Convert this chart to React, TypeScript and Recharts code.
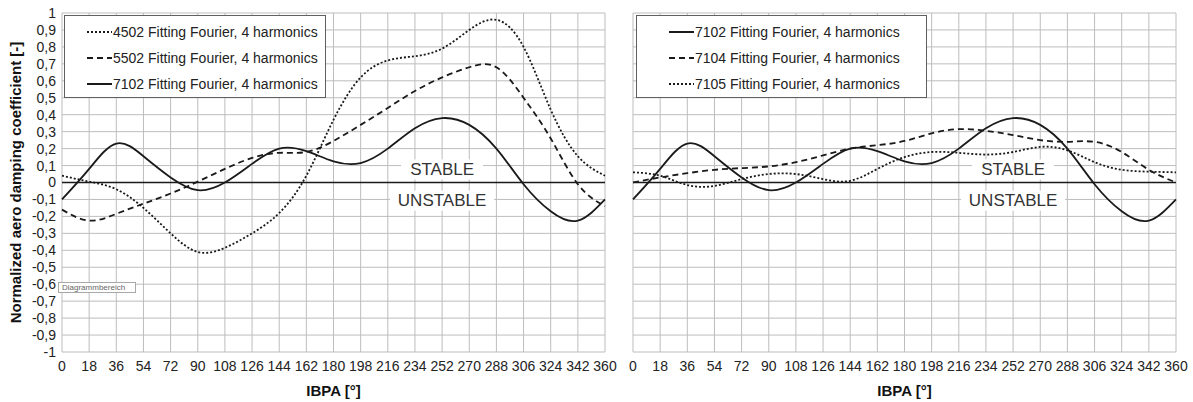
import {
  LineChart,
  Line,
  XAxis,
  YAxis,
  CartesianGrid,
  ReferenceLine,
  ReferenceDot,
  Legend
} from "recharts";

// IBPA sample positions [deg]
const ibpa = [0, 18, 36, 54, 72, 90, 108, 126, 144, 162, 180, 198, 216, 234, 252, 270, 288, 306, 324, 342, 360];

const xTicks = [0, 18, 36, 54, 72, 90, 108, 126, 144, 162, 180, 198, 216, 234, 252, 270, 288, 306, 324, 342, 360];
const yTicks = [-1, -0.9, -0.8, -0.7, -0.6, -0.5, -0.4, -0.3, -0.2, -0.1, 0, 0.1, 0.2, 0.3, 0.4, 0.5, 0.6, 0.7, 0.8, 0.9, 1];

// normalized aero damping
const fit4502 = [0.04, 0.005, -0.04, -0.15, -0.3, -0.41, -0.385, -0.3, -0.18, 0.04, 0.37, 0.62, 0.72, 0.745, 0.79, 0.9, 0.96, 0.8, 0.43, 0.155, 0.04];
const fit5502 = [-0.16, -0.225, -0.185, -0.125, -0.065, 0.005, 0.08, 0.145, 0.175, 0.18, 0.245, 0.34, 0.44, 0.54, 0.62, 0.68, 0.68, 0.5, 0.26, -0.01, -0.14];
const fit7102 = [-0.1, 0.08, 0.23, 0.155, 0.03, -0.045, 0.0, 0.11, 0.2, 0.185, 0.125, 0.115, 0.2, 0.32, 0.38, 0.34, 0.2, -0.01, -0.17, -0.225, -0.1];
const fit7104 = [0.0, 0.03, 0.055, 0.075, 0.085, 0.095, 0.12, 0.16, 0.2, 0.22, 0.245, 0.29, 0.315, 0.305, 0.28, 0.25, 0.24, 0.24, 0.18, 0.075, 0.0];
const fit7105 = [0.06, 0.04, -0.015, -0.02, 0.02, 0.05, 0.05, 0.02, 0.01, 0.08, 0.15, 0.18, 0.175, 0.165, 0.18, 0.21, 0.19, 0.12, 0.075, 0.064, 0.06];

const leftData = ibpa.map((x, i) => ({ ibpa: x, s4502: fit4502[i], s5502: fit5502[i], s7102: fit7102[i] }));
const rightData = ibpa.map((x, i) => ({ ibpa: x, s7102: fit7102[i], s7104: fit7104[i], s7105: fit7105[i] }));

const INK = "#1a1a1a";
const GRID = "#bdbdbd";
const FONT = "'Liberation Sans', Arial, sans-serif";

const SOLID = undefined;
const DASHED = "6 4";
const DOTTED = "2 2";

const leftItems = [
  { label: "4502 Fitting Fourier, 4 harmonics", dash: DOTTED },
  { label: "5502 Fitting Fourier, 4 harmonics", dash: DASHED },
  { label: "7102 Fitting Fourier, 4 harmonics", dash: SOLID }
];
const rightItems = [
  { label: "7102 Fitting Fourier, 4 harmonics", dash: SOLID },
  { label: "7104 Fitting Fourier, 4 harmonics", dash: DASHED },
  { label: "7105 Fitting Fourier, 4 harmonics", dash: DOTTED }
];

const fmtY = (v: number) => (Number.isInteger(v) ? String(v) : v.toFixed(1).replace(".", ","));

function LegendBox({ items, padLeft }: { items: { label: string; dash?: string }[]; padLeft: number }) {
  return (
    <div
      style={{
        boxSizing: "border-box",
        width: "100%",
        height: 83,
        border: "1px solid #606060",
        background: "#fff",
        paddingTop: 3,
        paddingLeft: padLeft,
        fontFamily: FONT,
        fontSize: 14,
        color: "#222"
      }}
    >
      {items.map((it) => (
        <div key={it.label} style={{ display: "flex", alignItems: "center", height: 26, whiteSpace: "nowrap" }}>
          <svg width={25} height={10} style={{ marginRight: 1 }}>
            <line x1={0} y1={5} x2={25} y2={5} stroke={INK} strokeWidth={2} strokeDasharray={it.dash} />
          </svg>
          <span>{it.label}</span>
        </div>
      ))}
    </div>
  );
}

const zoneLabel = (text: string, w: number) => (p: any) => (
  <g>
    <rect x={p.cx - w / 2} y={p.cy - 10} width={w} height={20} fill="#fff" />
    <text x={p.cx} y={p.cy} textAnchor="middle" dominantBaseline="central" fontSize={17} fill="#333" fontFamily={FONT}>
      {text}
    </text>
  </g>
);

const tickStyle = { fontSize: 14, fill: "#222", fontFamily: FONT };
const axisLabelStyle = { fontSize: 15, fontWeight: "bold", fill: "#111", fontFamily: FONT };
const noTick = () => <g />;

function Panel({
  data,
  series,
  items,
  width,
  marginLeft,
  marginRight,
  showY,
  legendLeft,
  legendWidth,
  legendPad
}: {
  data: any[];
  series: { key: string; dash?: string }[];
  items: { label: string; dash?: string }[];
  width: number;
  marginLeft: number;
  marginRight: number;
  showY: boolean;
  legendLeft: number;
  legendWidth: number;
  legendPad: number;
}) {
  return (
    <LineChart width={width} height={402} data={data} margin={{ top: 13, right: marginRight, left: marginLeft, bottom: 0 }}>
      <CartesianGrid stroke={GRID} strokeWidth={1} />
      <XAxis
        dataKey="ibpa"
        type="number"
        domain={[0, 360]}
        ticks={xTicks}
        interval={0}
        height={50}
        axisLine={false}
        tickLine={false}
        tickSize={6}
        tickMargin={3}
        tick={tickStyle}
        label={{ value: "IBPA [°]", position: "insideBottom", offset: 6, style: axisLabelStyle }}
      />
      <YAxis
        type="number"
        domain={[-1, 1]}
        ticks={yTicks}
        interval={0}
        width={showY ? 62 : 1}
        axisLine={false}
        tickLine={false}
        tickSize={4}
        tickMargin={2}
        tick={showY ? tickStyle : noTick}
        tickFormatter={fmtY}
        label={
          showY
            ? {
                value: "Normalized aero damping coefficient [-]",
                angle: -90,
                position: "insideLeft",
                offset: 16,
                style: { ...axisLabelStyle, textAnchor: "middle" }
              }
            : undefined
        }
      />
      <ReferenceLine y={0} stroke={INK} strokeWidth={1.5} />
      <ReferenceDot x={252} y={0.077} r={0} shape={zoneLabel("STABLE", 82)} />
      <ReferenceDot x={252} y={-0.107} r={0} shape={zoneLabel("UNSTABLE", 104)} />
      {series.map((s) => (
        <Line
          key={s.key}
          dataKey={s.key}
          type="natural"
          stroke={INK}
          strokeWidth={1.8}
          strokeDasharray={s.dash}
          dot={false}
          activeDot={false}
          isAnimationActive={false}
        />
      ))}
      <Legend
        layout="horizontal"
        verticalAlign="middle"
        align="center"
        wrapperStyle={{ left: legendLeft, top: 15, width: legendWidth, height: 83 }}
        content={() => <LegendBox items={items} padLeft={legendPad} />}
      />
    </LineChart>
  );
}

export default function App() {
  return (
    <div style={{ position: "absolute", left: 0, top: 0, width: 1193, height: 402, background: "#fff", fontFamily: FONT }}>
      <div style={{ position: "absolute", left: 0, top: 0 }}>
        <Panel
          data={leftData}
          series={[
            { key: "s4502", dash: DOTTED },
            { key: "s5502", dash: DASHED },
            { key: "s7102", dash: SOLID }
          ]}
          items={leftItems}
          width={625}
          marginLeft={0}
          marginRight={20}
          showY={true}
          legendLeft={64}
          legendWidth={262}
          legendPad={22}
        />
      </div>
      <div style={{ position: "absolute", left: 610, top: 0 }}>
        <Panel
          data={rightData}
          series={[
            { key: "s7102", dash: SOLID },
            { key: "s7104", dash: DASHED },
            { key: "s7105", dash: DOTTED }
          ]}
          items={rightItems}
          width={583}
          marginLeft={22}
          marginRight={17}
          showY={false}
          legendLeft={26}
          legendWidth={291}
          legendPad={32}
        />
      </div>
      <div
        style={{
          position: "absolute",
          left: 58,
          top: 282,
          width: 78,
          height: 11,
          boxSizing: "border-box",
          border: "1px solid #a8a8a8",
          background: "#fff",
          fontSize: 8,
          lineHeight: "9px",
          color: "#666",
          paddingLeft: 3,
          fontFamily: FONT
        }}
      >
        Diagrammbereich
      </div>
    </div>
  );
}
